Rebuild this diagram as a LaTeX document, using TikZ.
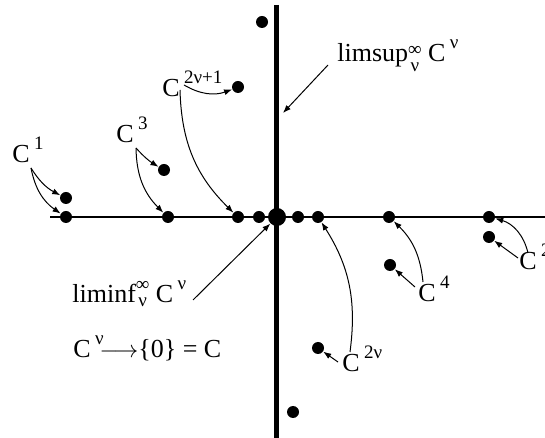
\documentclass[tikz,border=0pt]{standalone}
\usepackage{fontspec}
\setmainfont{Liberation Serif}
\usetikzlibrary{arrows.meta}
\newcommand{\supfont}{\fontsize{9.5}{11}\selectfont}
\newcommand{\up}[1]{\,\raisebox{0.5em}{\supfont #1}}
\newcommand{\limidx}[1]{\raisebox{#1}{\supfont\shortstack{∞\\[1pt]ν}}}
\tikzset{
  pt/.style={circle,fill=black,inner sep=0pt,minimum size=6pt},
  bigpt/.style={pt,minimum size=9pt},
  lbl/.style={anchor=base west,inner sep=0pt,font=\fontsize{13}{15}\selectfont},
  ptr/.style={-{Latex[length=4pt,width=3pt]},line width=0.5pt},
}

\begin{document}
\begin{tikzpicture}[x=0.5pt,y=0.5pt]
  \useasboundingbox (0,0) rectangle (545,438);
  % axes
  \coordinate (xl) at (50,221);
  \coordinate (xr) at (545,221);
  \coordinate (yt) at (276,433);
  \coordinate (yb) at (276,0);
  \draw[line width=0.75pt] (xl) -- (xr);
  \draw[line width=2.5pt] (yt) -- (yb);
  % points on the line
  \node[pt] (d1b) at (66,221) {};
  \node[pt] (d3b) at (168,221) {};
  \node[pt] (d5b) at (238,221) {};
  \node[pt] (d7)  at (259,221) {};
  \node[bigpt] (dc) at (277,221) {};
  \node[pt] (d6)  at (298,221) {};
  \node[pt] (d8)  at (318,221) {};
  \node[pt] (d4b) at (389,221) {};
  \node[pt] (d2b) at (489,221) {};
  % points off the line
  \node[pt] (d1a) at (66,240) {};
  \node[pt] (d3a) at (164,268) {};
  \node[pt] (d5a) at (238,351) {};
  \node[pt] (dtop) at (262,416) {};
  \node[pt] (d4a) at (390,173) {};
  \node[pt] (d2a) at (489,201) {};
  \node[pt] (d2n) at (318,90) {};
  \node[pt] (dbot) at (293,26) {};
  % labels
  \node[lbl] (c1)  at (12,275)  {C\up{1}};
  \node[lbl] (c3)  at (116,295) {C\up{3}};
  \node[lbl] (c5)  at (162,341) {C\up{2ν+1}};
  \node[lbl] (sup) at (337,376) {limsup\limidx{-5pt}\ C\up{ν}};
  \node[lbl] (inf) at (72,135)  {liminf\limidx{-2pt}\ C\up{ν}};
  \node[lbl] (lim) at (73,80)   {C\up{ν}$\!\longrightarrow$\{0\} = C};
  \node[lbl] (c4)  at (418,136) {C\up{4}};
  \node[lbl] (c2)  at (519,168) {C\up{2}};
  \node[lbl] (c2n) at (342,66)  {C\up{2ν}};
  % arrow tails
  \coordinate (s1)  at (31,270);
  \coordinate (s3)  at (136,290);
  \coordinate (s5a) at (184,353);
  \coordinate (s5b) at (180,348);
  \coordinate (ssup) at (328,373);
  \coordinate (esup) at (283,325);
  \coordinate (sinf) at (193,138);
  \coordinate (s2na) at (350,86);
  \coordinate (s2nb) at (338,76);
  \coordinate (s4a) at (423,156);
  \coordinate (s4b) at (415,151);
  \coordinate (s2a) at (528,185);
  \coordinate (s2b) at (518,180);
  % arrows
  \draw[ptr] (s1) to[bend right=15] (d1a);
  \draw[ptr] (s1) to[bend right=22] (d1b);
  \draw[ptr] (s3) to[bend right=8] (d3a);
  \draw[ptr] (s3) to[bend right=22] (d3b);
  \draw[ptr] (s5a) to[bend right=25] (d5a);
  \draw[ptr] (s5b) to[bend right=22] (d5b);
  \draw[ptr] (ssup) -- (esup);
  \draw[ptr] (sinf) -- (dc);
  \draw[ptr] (s2na) to[bend right=20] (d8);
  \draw[ptr] (s2nb) -- (d2n);
  \draw[ptr] (s4a) to[bend right=20] (d4b);
  \draw[ptr] (s4b) -- (d4a);
  \draw[ptr] (s2a) to[bend right=30] (d2b);
  \draw[ptr] (s2b) -- (d2a);
\end{tikzpicture}
\end{document}
